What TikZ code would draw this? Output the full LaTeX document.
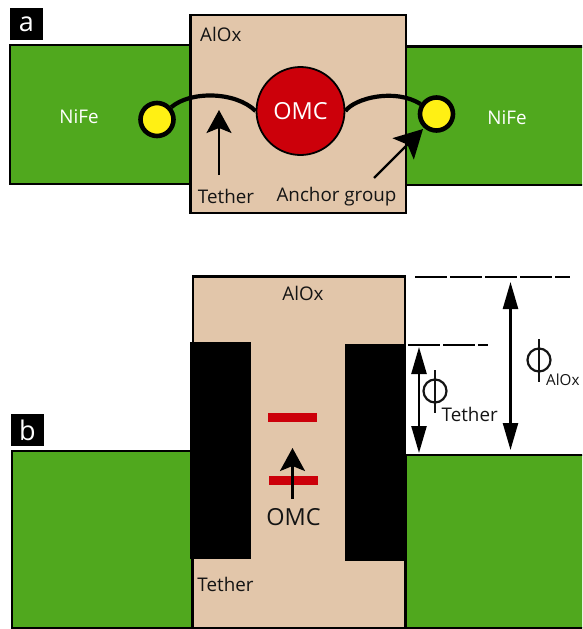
\documentclass[tikz,border=0pt]{standalone}
\usepackage{fontspec}
\setmainfont{Open Sans}
\usetikzlibrary{arrows.meta}
\definecolor{nife}{RGB}{80,168,30}
\definecolor{alox}{RGB}{226,198,170}
\definecolor{omc}{RGB}{204,0,10}
\definecolor{anchor}{RGB}{255,240,20}
\definecolor{ink}{RGB}{20,20,20}
\tikzset{
  x=1pt,y=-1pt,
  metal/.style={draw=black,line width=2.2pt,fill=nife},
  oxide/.style={draw=black,line width=2.2pt,fill=alox},
  tetherblock/.style={fill=black,draw=none},
  tag/.style={fill=black,text=white,font=\fontsize{27}{27}\selectfont,inner sep=0pt,minimum width=33pt,minimum height=32pt},
  lab/.style={text=ink,font=\fontsize{18.8}{20}\selectfont,inner sep=0pt},
  wlab/.style={text=white,font=\fontsize{18.8}{20}\selectfont,inner sep=0pt},
  anchorpt/.style={circle,draw=black,line width=4.6pt,fill=anchor,inner sep=0pt,minimum size=33pt},
  molecule/.style={circle,draw=black,line width=1.8pt,fill=omc,inner sep=0pt,minimum size=88pt,text=white,font=\fontsize{23.5}{26}\selectfont},
  tetherline/.style={line width=4.2pt,draw=black},
  pointer/.style={line width=2.4pt,draw=black,-{Stealth[length=23pt,width=25pt,inset=5pt]}},
  pointerbig/.style={line width=2.4pt,draw=black,-{Stealth[length=28pt,width=30pt,inset=6pt]}},
  span/.style={line width=2.4pt,draw=black,{Triangle[length=27pt,width=15pt]}-{Triangle[length=27pt,width=15pt]}},
  level/.style={line width=2.3pt,draw=black,dash pattern=on 32pt off 3pt},
  bar/.style={fill=omc,draw=none},
  phiring/.style={circle,draw=ink,line width=2.2pt,minimum size=23pt,inner sep=0pt},
  phistem/.style={line width=2pt,draw=ink},
}
\begin{document}
\begin{tikzpicture}
\useasboundingbox (0,0) rectangle (582,629);
\clip (0,0) rectangle (582,629);
% panel a
\node[tag] (taga) at (26.5,24) {a};
\draw[metal] (10,45) rectangle (191,184);
\draw[metal] (406,46.5) rectangle (590,185);
\draw[oxide] (190.5,15) rectangle (406,213);
\node[lab,anchor=west] (aloxa) at (200,34) {AlOx};
\node[wlab] (nifel) at (79,117) {NiFe};
\node[wlab] (nifer) at (507,118) {NiFe};
\node[molecule] (omca) at (300.5,111) {OMC};
\node[anchorpt] (ancl) at (157,119.5) {};
\node[anchorpt] (ancr) at (436.5,114) {};
\draw[tetherline] (ancl) .. controls (190,91) and (235,91) .. (omca.180);
\draw[tetherline] (omca.0) .. controls (355,98) and (395,88) .. (ancr);
\node[lab] (tethera) at (226,196) {Tether};
\node[lab] (anchorlab) at (336.5,197) {Anchor group};
\coordinate (ta) at (219,175);
\coordinate (tb) at (219,110);
\draw[pointer] (ta) -- (tb);
\coordinate (aa) at (374,178);
\coordinate (ab) at (423,129);
\draw[pointerbig] (aa) -- (ab);
% panel b
\node[tag] (tagb) at (27.5,430) {b};
\draw[oxide] (193,276.5) rectangle (405,628);
\draw[metal] (12,451) rectangle (192.5,628);
\draw[metal] (405.5,455) rectangle (590,628);
\fill[tetherblock] (190,342) rectangle (250.5,558.5);
\fill[tetherblock] (345,344) rectangle (405,560.5);
\node[lab] (aloxb) at (303,293) {AlOx};
\node[lab] (tetherb) at (225.5,584) {Tether};
\fill[bar] (268,413) rectangle (316.5,421.5);
\fill[bar] (269,476) rectangle (317.5,484.5);
\node[lab,font=\fontsize{23.5}{26}\selectfont] (omcb) at (293.5,517) {OMC};
\coordinate (oa) at (292.5,499);
\coordinate (ob) at (292.5,448);
\draw[pointer] (oa) -- (ob);
\coordinate (l1a) at (415,277);
\coordinate (l1b) at (570,277);
\draw[level] (l1a) -- (l1b);
\coordinate (l2a) at (408,345);
\coordinate (l2b) at (488,345);
\draw[level] (l2a) -- (l2b);
\coordinate (s1a) at (419,347);
\coordinate (s1b) at (419,453);
\draw[span] (s1a) -- (s1b);
\coordinate (s2a) at (510.5,282);
\coordinate (s2b) at (510.5,450);
\draw[span] (s2a) -- (s2b);
\node[phiring] (phit) at (435,391) {};
\draw[phistem] (435,370) -- (435,413);
\node[lab,anchor=west] (phitl) at (441.5,414) {Tether};
\node[phiring] (phia) at (539,360) {};
\draw[phistem] (539,339) -- (539,382);
\node[lab,anchor=west,font=\fontsize{15.2}{18}\selectfont] (phial) at (546,380) {AlOx};
\end{tikzpicture}
\end{document}
